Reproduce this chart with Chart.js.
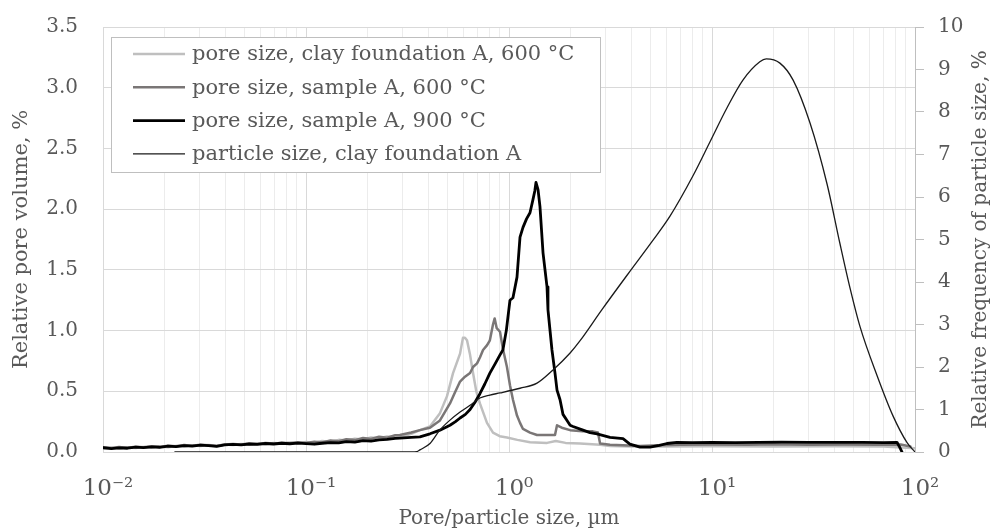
<!DOCTYPE html>
<html><head><meta charset="utf-8">
<script src="https://cdn.jsdelivr.net/npm/chart.js@4.4.0/dist/chart.umd.min.js"></script>
<style>html,body{margin:0;padding:0;background:#fff;}#wrap{width:995px;height:532px;}</style>
</head><body><div id="wrap"><canvas id="c" width="995" height="532"></canvas></div>
<script>
// ---------- data ----------
const xDecades = [0.01, 0.1, 1, 10, 100];
const xTickLabels = ['10⁻²', '10⁻¹', '10⁰', '10¹', '10²'];
const seriesLabels = ['pore size, clay foundation A, 600 °C', 'pore size, sample A, 600 °C', 'pore size, sample A, 900 °C', 'particle size, clay foundation A'];

const baseX = [0.0100,0.0110,0.0120,0.0132,0.0145,0.0158,0.0174,0.0190,0.0209,0.0229,0.0251,0.0275,0.0302,0.0331,0.0363,0.0398,0.0437,0.0479,0.0525,0.0575,0.0631,0.0692,0.0759,0.0832,0.0912,0.100,0.110,0.120,0.132,0.145,0.158,0.174,0.191,0.209,0.229,0.251,0.275];

const clayX = baseX.concat([0.290,0.330,0.364,0.408,0.457,0.495,0.530,0.574,0.593,0.607,0.621,0.643,0.665,0.690,0.719,0.779,0.834,0.900,0.977,1.10,1.27,1.54,1.70,1.90,2.24,2.81,3.15,4.0,6.0,10,20,40,70,100]);
const clayY = [0.030,0.036,0.029,0.037,0.033,0.041,0.036,0.045,0.040,0.050,0.045,0.055,0.049,0.058,0.052,0.061,0.057,0.066,0.061,0.070,0.065,0.074,0.069,0.078,0.073,0.082,0.077,0.090,0.085,0.100,0.094,0.110,0.104,0.120,0.113,0.128,0.120,
  0.120,0.150,0.180,0.210,0.320,0.460,0.650,0.810,0.940,0.940,0.920,0.800,0.650,0.500,0.400,0.240,0.160,0.130,0.120,0.100,0.080,0.075,0.090,0.075,0.070,0.060,0.050,0.045,0.045,0.048,0.046,0.047,0.045,0.030];

const s600X = baseX.concat([0.290,0.330,0.364,0.408,0.457,0.512,0.545,0.574,0.607,0.643,0.665,0.696,0.720,0.745,0.780,0.805,0.834,0.850,0.870,0.903,0.933,0.977,1.011,1.046,1.095,1.133,1.172,1.269,1.374,1.539,1.685,1.724,1.820,2.00,2.30,2.59,2.742,2.81,3.145,3.644,4.42,5.5,7,10,15,20,30,45,65,85,95]);
const s600Y = [0.040,0.033,0.041,0.036,0.044,0.039,0.047,0.042,0.052,0.047,0.057,0.051,0.060,0.055,0.050,0.062,0.066,0.061,0.070,0.066,0.074,0.069,0.077,0.072,0.080,0.074,0.085,0.079,0.095,0.088,0.105,0.098,0.115,0.108,0.125,0.118,0.138,
  0.140,0.160,0.180,0.200,0.260,0.400,0.500,0.580,0.620,0.650,0.700,0.730,0.780,0.840,0.880,0.920,1.050,1.100,1.020,0.990,0.850,0.700,0.550,0.430,0.300,0.240,0.190,0.160,0.140,0.140,0.140,0.220,0.200,0.180,0.170,0.170,0.160,0.070,0.060,0.055,0.050,0.055,0.060,0.062,0.060,0.063,0.060,0.062,0.060,0.062,0.045];

const s900X = baseX.concat([0.290,0.330,0.364,0.408,0.457,0.512,0.545,0.574,0.610,0.643,0.680,0.719,0.760,0.805,0.850,0.903,0.933,0.970,1.011,1.046,1.095,1.133,1.172,1.220,1.269,1.313,1.340,1.358,1.390,1.421,1.471,1.539,1.556,1.628,1.685,1.724,1.784,1.845,1.931,2.00,2.067,2.315,2.506,2.713,3.145,3.644,3.94,4.42,4.95,5.5,6.0,6.72,8,10,13,17,22,30,40,55,70,81.5,84,86.3]);
const s900Y = [0.035,0.028,0.034,0.031,0.040,0.036,0.043,0.039,0.048,0.044,0.052,0.049,0.057,0.053,0.047,0.058,0.062,0.059,0.066,0.063,0.070,0.066,0.072,0.068,0.073,0.069,0.064,0.072,0.078,0.075,0.085,0.082,0.093,0.089,0.100,0.104,0.112,
  0.115,0.120,0.125,0.150,0.180,0.220,0.250,0.280,0.310,0.350,0.410,0.480,0.560,0.650,0.720,0.800,0.840,1.000,1.250,1.270,1.440,1.770,1.850,1.920,1.970,2.080,2.150,2.220,2.160,2.020,1.640,1.360,1.170,0.840,0.650,0.510,0.430,0.310,0.260,0.220,0.210,0.180,0.160,0.150,0.120,0.110,0.065,0.040,0.040,0.055,0.070,0.080,0.078,0.080,0.078,0.080,0.082,0.080,0.079,0.080,0.078,0.080,0.040,0.000];

const particleX = [0.0226,0.10,0.33,0.352,0.364,0.408,0.457,0.512,0.574,0.643,0.719,0.805,0.903,1.133,1.374,1.647,2.0,2.24,2.87,3.94,5.06,6.21,8.06,9.78,11.86,14.2,17.2,18.5,21.6,25.1,30.4,36.9,42.7,47.9,53.6,65.0,77.9,91.4,100];
const particleY = [0,0,0,0.01,0.05,0.20,0.52,0.75,0.94,1.10,1.27,1.34,1.39,1.50,1.62,1.93,2.33,2.62,3.35,4.25,4.95,5.55,6.50,7.30,8.10,8.75,9.18,9.25,9.15,8.75,7.74,6.30,4.90,3.85,2.95,1.80,0.85,0.22,0];

// ---------- helpers ----------
const pts = (xs, ys) => xs.map((x, i) => ({x: x, y: ys[i]}));
const FONT = 'DejaVu Serif';
const TXT = '#595959';
const xTicks = [];
for (let d = 0; d < xDecades.length - 1; d++) for (let k = 1; k <= 9; k++) xTicks.push(+(xDecades[d] * k).toPrecision(6));
xTicks.push(xDecades[xDecades.length - 1]);
const decadeIndex = v => xDecades.findIndex(d => Math.abs(v / d - 1) < 1e-6);

const legendPlugin = {
  id: 'boxLegend',
  afterDraw(chart) {
    const ctx = chart.ctx;
    const bx = 111, by = 37, bw = 489, bh = 135;
    ctx.save();
    ctx.fillStyle = '#fff';
    ctx.fillRect(bx, by, bw, bh);
    ctx.strokeStyle = '#bfbfbf'; ctx.lineWidth = 1;
    ctx.strokeRect(bx + 0.5, by + 0.5, bw, bh);
    ctx.font = '21px "' + FONT + '"';
    ctx.textBaseline = 'middle';
    ctx.fillStyle = TXT;
    chart.data.datasets.forEach((ds, i) => {
      const y = by + 17 + i * 33.3;
      ctx.strokeStyle = ds.borderColor; ctx.lineWidth = ds.borderWidth;
      ctx.beginPath(); ctx.moveTo(133, y); ctx.lineTo(185, y); ctx.stroke();
      ctx.fillText(ds.label, 192, y + 1);
    });
    ctx.restore();
  }
};
const rightTitle = {
  id: 'rightTitle',
  afterDraw(chart) {
    const ctx = chart.ctx, a = chart.chartArea;
    ctx.save();
    ctx.translate(981, (a.top + a.bottom) / 2);
    ctx.rotate(-Math.PI / 2);
    ctx.font = '20px "' + FONT + '"';
    ctx.fillStyle = TXT; ctx.textAlign = 'center'; ctx.textBaseline = 'middle';
    ctx.fillText('Relative frequency of particle size, %', 0, 0);
    ctx.restore();
  }
};

new Chart(document.getElementById('c'), {
  type: 'line',
  data: {
    datasets: [
      {label: seriesLabels[0], data: pts(clayX, clayY), borderColor: '#bfbfbf', borderWidth: 2.5, yAxisID: 'y', order: 3, tension: 0},
      {label: seriesLabels[1], data: pts(s600X, s600Y), borderColor: '#7a7676', borderWidth: 2.5, yAxisID: 'y', order: 2, tension: 0},
      {label: seriesLabels[2], data: pts(s900X, s900Y), borderColor: '#000000', borderWidth: 2.8, yAxisID: 'y', order: 1, tension: 0},
      {label: seriesLabels[3], data: pts(particleX, particleY), borderColor: '#1a1a1a', borderWidth: 1.3, yAxisID: 'y2', order: 0, cubicInterpolationMode: 'monotone'}
    ]
  },
  options: {
    responsive: false, animation: false, devicePixelRatio: 1,
    layout: {padding: {top: 27, left: 0, right: 0, bottom: 0}},
    elements: {point: {radius: 0}, line: {borderJoinStyle: 'round', borderCapStyle: 'round'}},
    plugins: {legend: {display: false}, tooltip: {enabled: false}},
    scales: {
      x: {
        type: 'logarithmic', position: 'bottom', min: 0.01, max: 100,
        afterBuildTicks: s => { s.ticks = xTicks.map(v => ({value: v})); },
        afterFit: s => { s.height = 80; },
        ticks: {autoSkip: false, maxRotation: 0, minRotation: 0, padding: 23, labelOffset: 5, color: TXT, font: {family: FONT, size: 23},
          callback: v => { const i = decadeIndex(v); return i >= 0 ? xTickLabels[i] : ''; }},
        grid: {drawTicks: false, lineWidth: 1, color: c => (c.tick && decadeIndex(c.tick.value) >= 0) ? '#d9d9d9' : '#ececec'},
        border: {display: false},
        title: {display: true, text: 'Pore/particle size, µm', color: TXT, font: {family: FONT, size: 20}, padding: {top: 0, bottom: 1}}
      },
      y: {
        position: 'left', min: 0, max: 3.5,
        afterFit: s => { s.width = 103; },
        ticks: {stepSize: 0.5, padding: 3, color: TXT, font: {family: FONT, size: 20}, callback: v => Number(v).toFixed(1)},
        grid: {drawTicks: true, tickLength: 22, tickColor: 'rgba(0,0,0,0)', color: '#d9d9d9'},
        border: {display: false},
        title: {display: true, text: 'Relative pore volume, %', color: TXT, font: {family: FONT, size: 21}, padding: {top: 9, bottom: 0}}
      },
      y2: {
        position: 'right', min: 0, max: 10,
        afterFit: s => { s.width = 80; },
        ticks: {stepSize: 1, padding: 14, color: TXT, font: {family: FONT, size: 20}},
        grid: {drawOnChartArea: false, drawTicks: true, tickLength: 9, color: '#bfbfbf'},
        border: {display: true, color: '#bfbfbf'}
      }
    }
  },
  plugins: [legendPlugin, rightTitle]
});
</script>
</body></html>
